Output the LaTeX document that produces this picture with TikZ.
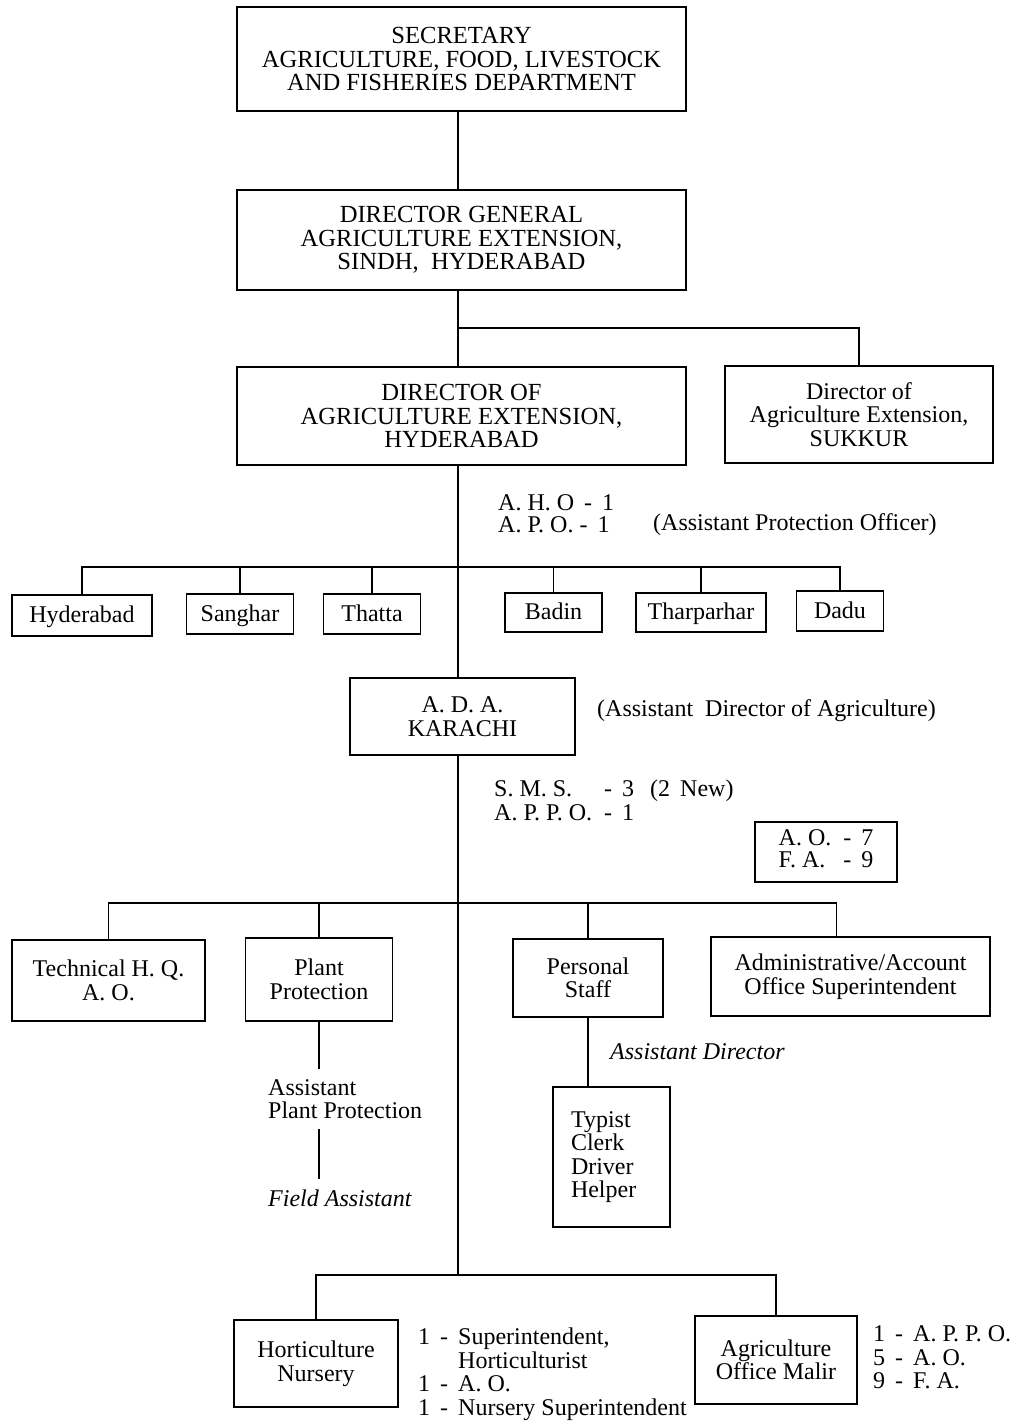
\documentclass[tikz,border=0pt]{standalone}
\usepackage{fontspec}
\setmainfont{Liberation Serif}
\newcommand\mainsize{\fontsize{24}{23.5}\selectfont}
\newcommand\capsize{\fontsize{24.6}{23.5}\selectfont}
\tikzset{
  box/.style={draw, line width=1.6pt, inner sep=0pt, align=center, font=\mainsize},
  capbox/.style={box, font=\capsize},
  one/.style={text height=18pt, text depth=4pt},
  txt/.style={inner sep=0pt, anchor=west, font=\mainsize, align=left},
  itxt/.style={txt, font=\mainsize\itshape},
  conn/.style={line width=1.6pt},
}
\begin{document}
\begin{tikzpicture}[x=1pt,y=-1pt]
\useasboundingbox (0,0) rectangle (1029,1425);
\coordinate (sp) at (458,0);
\coordinate (b1) at (458,328);
\coordinate (db) at (458,567);
\coordinate (b2) at (458,903);
\coordinate (b3) at (458,1275);

% top levels
\node[capbox, minimum width=449pt, minimum height=104pt] (sec) at (461.5,59)
  {SECRETARY\\AGRICULTURE, FOOD, LIVESTOCK\\AND FISHERIES DEPARTMENT};
\node[capbox, minimum width=449pt, minimum height=100pt] (dg) at (461.5,240)
  {DIRECTOR GENERAL\\AGRICULTURE EXTENSION,\\SINDH, \ HYDERABAD};
\node[capbox, minimum width=449pt, minimum height=98pt] (dah) at (461.5,416)
  {DIRECTOR OF\\AGRICULTURE EXTENSION,\\HYDERABAD};
\node[box, minimum width=268pt, minimum height=97pt] (suk) at (859,414.5)
  {Director of\\Agriculture Extension,\\SUKKUR};

\draw[conn] (sec.south -| sp) -- (dg.north -| sp);
\draw[conn] (dg.south -| sp) -- (dah.north -| sp);
\draw[conn] (b1) -| (suk.north);

% notes under director
\node[txt] (aho) at (498,503) {A. H. O \,- \,1};
\node[txt] (apo) at (498,525) {A. P. O. - \,1};
\node[txt] (apon) at (653,525) {(Assistant Protection Officer)};

% districts
\node[box, one, minimum width=140pt, minimum height=41pt] (hyd) at (82,615.5) {Hyderabad};
\node[box, one, minimum width=107pt, minimum height=40pt] (san) at (240,614) {Sanghar};
\node[box, one, minimum width=97pt, minimum height=40pt] (tha) at (372,614) {Thatta};
\node[box, one, minimum width=97pt, minimum height=39pt] (bad) at (553.5,612.5) {Badin};
\node[box, one, minimum width=130pt, minimum height=39pt] (thar) at (701,612.5) {Tharparhar};
\node[box, one, minimum width=87pt, minimum height=40pt] (dadu) at (840,611) {Dadu};

\draw[conn] (hyd.north) -- (hyd.north |- db) -- (dadu.north |- db) -- (dadu.north);
\draw[conn] (san.north) -- (san.north |- db);
\draw[conn] (tha.north) -- (tha.north |- db);
\draw[conn] (bad.north) -- (bad.north |- db);
\draw[conn] (thar.north) -- (thar.north |- db);

% ADA
\node[capbox, minimum width=225pt, minimum height=77pt, font=\mainsize] (ada) at (462.5,716.5) {A. D. A.\\KARACHI};
\node[txt] (adan) at (597,711) {(Assistant \ Director of Agriculture)};
\draw[conn] (dah.south -| sp) -- (ada.north -| sp);
\draw[conn] (ada.south -| sp) -- (b3);

\node[txt] (sms) at (494,803.5) {\begin{tabular}{@{}l@{\hspace{12pt}}l@{}}S. M. S. & - \,3 \ \,(2 \,New)\\ A. P. P. O. & - \,1\end{tabular}};

\node[box, minimum width=142pt, minimum height=60pt, font=\fontsize{24}{21}\selectfont] (aofa) at (826,852)
  {\begin{tabular}{@{}l@{\hspace{12pt}}l@{}}A. O. & - \,7\\ F. A. & - \,9\end{tabular}};

% second level
\node[box, minimum width=193pt, minimum height=81pt] (tech) at (108.5,980.5) {Technical H. Q.\\A. O.};
\node[box, minimum width=147pt, minimum height=83pt] (plant) at (319,979.5) {Plant\\Protection};
\node[box, minimum width=150pt, minimum height=78pt] (pers) at (588,978) {Personal\\Staff};
\node[box, minimum width=279pt, minimum height=79pt] (admin) at (850.5,976.5) {Administrative/Account\\Office Superintendent};

\draw[conn] (tech.north) -- (tech.north |- b2) -- ([xshift=-14pt]admin.north |- b2) -- ([xshift=-14pt]admin.north);
\draw[conn] (plant.north) -- (plant.north |- b2);
\draw[conn] (pers.north) -- (pers.north |- b2);

% plant protection chain
\node[txt, inner ysep=10pt] (app) at (268,1099) {Assistant\\Plant Protection};
\node[itxt, inner ysep=10pt] (fa) at (268,1198) {Field Assistant};
\draw[conn] (plant.south) -- (plant.south |- app.north);
\draw[conn] (plant.south |- app.south) -- (plant.south |- fa.north);

% personal staff chain
\node[itxt] (asd) at (610,1052) {Assistant Director};
\node[box, minimum width=117pt, minimum height=140pt, align=left, text width=81pt] (typ) at (611.5,1157)
  {Typist\\Clerk\\Driver\\Helper};
\draw[conn] (pers.south) -- (pers.south |- typ.north);

% bottom level
\node[box, minimum width=164pt, minimum height=87pt] (hort) at (316,1363.5) {Horticulture\\Nursery};
\node[box, minimum width=162pt, minimum height=88pt] (agri) at (776,1360) {Agriculture\\Office Malir};
\draw[conn] (hort.north) -- (hort.north |- b3) -- (agri.north |- b3) -- (agri.north);

\node[txt] (hortn) at (418,1375)
  {\begin{tabular}{@{}l@{\ \,-\ \,}l@{}}1 & Superintendent,\\ \multicolumn{1}{@{}l}{} & Horticulturist\\ 1 & A. O.\\ 1 & Nursery Superintendent\end{tabular}};
\node[txt] (agrin) at (873,1360.5)
  {\begin{tabular}{@{}l@{\ \,-\ \,}l@{}}1 & A. P. P. O.\\ 5 & A. O.\\ 9 & F. A.\end{tabular}};
\end{tikzpicture}
\end{document}
